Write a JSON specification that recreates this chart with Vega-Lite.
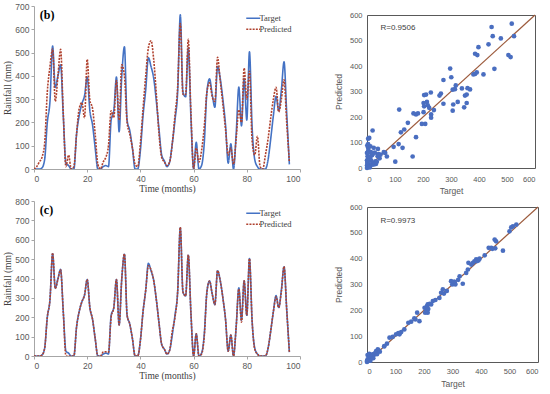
{
  "$schema": "https://vega.github.io/schema/vega-lite/v6.json",
  "padding": {"left": 2, "top": 1, "right": 0, "bottom": 0},
  "background": "white",
  "datasets": {
    "seriesB": [
      {"month":0,"Target":0,"Predicted":0},{"month":1,"Target":0,"Predicted":10},{"month":2,"Target":0,"Predicted":30},{"month":3,"Target":5,"Predicted":50},{"month":4,"Target":40,"Predicted":110},{"month":5,"Target":200,"Predicted":330},{"month":6,"Target":290,"Predicted":440},{"month":7,"Target":528,"Predicted":515},{"month":8,"Target":350,"Predicted":290},{"month":9,"Target":400,"Predicted":400},
      {"month":10,"Target":447,"Predicted":514},{"month":11,"Target":230,"Predicted":240},{"month":12,"Target":25,"Predicted":10},{"month":13,"Target":15,"Predicted":60},{"month":14,"Target":0,"Predicted":0},{"month":15,"Target":0,"Predicted":10},{"month":16,"Target":150,"Predicted":150},{"month":17,"Target":230,"Predicted":260},{"month":18,"Target":280,"Predicted":285},{"month":19,"Target":315,"Predicted":220},
      {"month":20,"Target":395,"Predicted":471},{"month":21,"Target":250,"Predicted":295},{"month":22,"Target":190,"Predicted":260},{"month":23,"Target":90,"Predicted":150},{"month":24,"Target":0,"Predicted":20},{"month":25,"Target":0,"Predicted":0},{"month":26,"Target":10,"Predicted":30},{"month":27,"Target":15,"Predicted":50},{"month":28,"Target":10,"Predicted":100},{"month":29,"Target":210,"Predicted":250},
      {"month":30,"Target":250,"Predicted":220},{"month":31,"Target":395,"Predicted":380},{"month":32,"Target":160,"Predicted":210},{"month":33,"Target":400,"Predicted":447},{"month":34,"Target":525,"Predicted":400},{"month":35,"Target":210,"Predicted":200},{"month":36,"Target":165,"Predicted":150},{"month":37,"Target":90,"Predicted":90},{"month":38,"Target":0,"Predicted":20},{"month":39,"Target":0,"Predicted":10},
      {"month":40,"Target":80,"Predicted":110},{"month":41,"Target":230,"Predicted":260},{"month":42,"Target":340,"Predicted":400},{"month":43,"Target":478,"Predicted":520},{"month":44,"Target":440,"Predicted":551},{"month":45,"Target":390,"Predicted":470},{"month":46,"Target":290,"Predicted":320},{"month":47,"Target":170,"Predicted":150},{"month":48,"Target":60,"Predicted":50},{"month":49,"Target":35,"Predicted":30},
      {"month":50,"Target":10,"Predicted":15},{"month":51,"Target":30,"Predicted":30},{"month":52,"Target":110,"Predicted":110},{"month":53,"Target":210,"Predicted":230},{"month":54,"Target":330,"Predicted":350},{"month":55,"Target":662,"Predicted":625},{"month":56,"Target":330,"Predicted":320},{"month":57,"Target":310,"Predicted":320},{"month":58,"Target":520,"Predicted":557},{"month":59,"Target":220,"Predicted":240},
      {"month":60,"Target":0,"Predicted":0},{"month":61,"Target":115,"Predicted":90},{"month":62,"Target":0,"Predicted":30},{"month":63,"Target":15,"Predicted":80},{"month":64,"Target":110,"Predicted":180},{"month":65,"Target":330,"Predicted":330},{"month":66,"Target":387,"Predicted":370},{"month":67,"Target":320,"Predicted":310},{"month":68,"Target":265,"Predicted":290},{"month":69,"Target":440,"Predicted":480},
      {"month":70,"Target":390,"Predicted":380},{"month":71,"Target":300,"Predicted":280},{"month":72,"Target":190,"Predicted":170},{"month":73,"Target":25,"Predicted":60},{"month":74,"Target":108,"Predicted":90},{"month":75,"Target":0,"Predicted":20},{"month":76,"Target":150,"Predicted":130},{"month":77,"Target":352,"Predicted":254},{"month":78,"Target":185,"Predicted":200},{"month":79,"Target":388,"Predicted":433},
      {"month":80,"Target":210,"Predicted":300},{"month":81,"Target":503,"Predicted":420},{"month":82,"Target":180,"Predicted":120},{"month":83,"Target":40,"Predicted":60},{"month":84,"Target":10,"Predicted":140},{"month":85,"Target":0,"Predicted":10},{"month":86,"Target":0,"Predicted":0},{"month":87,"Target":0,"Predicted":60},{"month":88,"Target":40,"Predicted":130},{"month":89,"Target":130,"Predicted":220},
      {"month":90,"Target":230,"Predicted":300},{"month":91,"Target":312,"Predicted":351},{"month":92,"Target":250,"Predicted":245},{"month":93,"Target":340,"Predicted":300},{"month":94,"Target":460,"Predicted":383},{"month":95,"Target":240,"Predicted":200},{"month":96,"Target":20,"Predicted":30}
    ],
    "seriesC": [
      {"month":0,"Target":0,"Predicted":0},{"month":1,"Target":0,"Predicted":0},{"month":2,"Target":0,"Predicted":0},{"month":3,"Target":5,"Predicted":5},{"month":4,"Target":40,"Predicted":40},{"month":5,"Target":200,"Predicted":200},{"month":6,"Target":290,"Predicted":290},{"month":7,"Target":528,"Predicted":532},{"month":8,"Target":350,"Predicted":348},{"month":9,"Target":400,"Predicted":395},
      {"month":10,"Target":447,"Predicted":445},{"month":11,"Target":230,"Predicted":228},{"month":12,"Target":25,"Predicted":0},{"month":13,"Target":15,"Predicted":0},{"month":14,"Target":0,"Predicted":0},{"month":15,"Target":0,"Predicted":0},{"month":16,"Target":150,"Predicted":150},{"month":17,"Target":230,"Predicted":230},{"month":18,"Target":280,"Predicted":280},{"month":19,"Target":315,"Predicted":315},
      {"month":20,"Target":395,"Predicted":395},{"month":21,"Target":250,"Predicted":250},{"month":22,"Target":190,"Predicted":190},{"month":23,"Target":90,"Predicted":90},{"month":24,"Target":0,"Predicted":0},{"month":25,"Target":0,"Predicted":0},{"month":26,"Target":10,"Predicted":20},{"month":27,"Target":15,"Predicted":22},{"month":28,"Target":10,"Predicted":20},{"month":29,"Target":210,"Predicted":200},
      {"month":30,"Target":250,"Predicted":250},{"month":31,"Target":395,"Predicted":395},{"month":32,"Target":160,"Predicted":160},{"month":33,"Target":400,"Predicted":400},{"month":34,"Target":525,"Predicted":527},{"month":35,"Target":210,"Predicted":210},{"month":36,"Target":165,"Predicted":165},{"month":37,"Target":90,"Predicted":90},{"month":38,"Target":0,"Predicted":0},{"month":39,"Target":0,"Predicted":0},
      {"month":40,"Target":80,"Predicted":80},{"month":41,"Target":230,"Predicted":230},{"month":42,"Target":340,"Predicted":340},{"month":43,"Target":478,"Predicted":465},{"month":44,"Target":440,"Predicted":445},{"month":45,"Target":390,"Predicted":390},{"month":46,"Target":290,"Predicted":290},{"month":47,"Target":170,"Predicted":170},{"month":48,"Target":60,"Predicted":60},{"month":49,"Target":35,"Predicted":35},
      {"month":50,"Target":10,"Predicted":10},{"month":51,"Target":30,"Predicted":30},{"month":52,"Target":110,"Predicted":130},{"month":53,"Target":210,"Predicted":200},{"month":54,"Target":330,"Predicted":330},{"month":55,"Target":662,"Predicted":665},{"month":56,"Target":330,"Predicted":330},{"month":57,"Target":310,"Predicted":310},{"month":58,"Target":520,"Predicted":522},{"month":59,"Target":220,"Predicted":220},
      {"month":60,"Target":0,"Predicted":0},{"month":61,"Target":115,"Predicted":115},{"month":62,"Target":0,"Predicted":0},{"month":63,"Target":15,"Predicted":10},{"month":64,"Target":110,"Predicted":100},{"month":65,"Target":330,"Predicted":330},{"month":66,"Target":387,"Predicted":387},{"month":67,"Target":320,"Predicted":320},{"month":68,"Target":265,"Predicted":265},{"month":69,"Target":440,"Predicted":440},
      {"month":70,"Target":390,"Predicted":390},{"month":71,"Target":300,"Predicted":300},{"month":72,"Target":190,"Predicted":190},{"month":73,"Target":25,"Predicted":25},{"month":74,"Target":108,"Predicted":108},{"month":75,"Target":0,"Predicted":0},{"month":76,"Target":150,"Predicted":150},{"month":77,"Target":352,"Predicted":345},{"month":78,"Target":185,"Predicted":175},{"month":79,"Target":388,"Predicted":388},
      {"month":80,"Target":210,"Predicted":210},{"month":81,"Target":503,"Predicted":503},{"month":82,"Target":180,"Predicted":180},{"month":83,"Target":40,"Predicted":35},{"month":84,"Target":10,"Predicted":10},{"month":85,"Target":0,"Predicted":0},{"month":86,"Target":0,"Predicted":0},{"month":87,"Target":0,"Predicted":0},{"month":88,"Target":40,"Predicted":40},{"month":89,"Target":130,"Predicted":130},
      {"month":90,"Target":230,"Predicted":230},{"month":91,"Target":312,"Predicted":305},{"month":92,"Target":250,"Predicted":250},{"month":93,"Target":340,"Predicted":335},{"month":94,"Target":460,"Predicted":462},{"month":95,"Target":240,"Predicted":240},{"month":96,"Target":20,"Predicted":20}
    ],
    "scatterB": [
      {"t":445,"p":553},{"t":517,"p":566},{"t":525,"p":517},{"t":449,"p":517},{"t":478,"p":508},{"t":434,"p":485},{"t":386,"p":448},{"t":398,"p":474},{"t":394,"p":443},{"t":505,"p":443},{"t":513,"p":435},{"t":455,"p":389},{"t":416,"p":367},{"t":386,"p":369},{"t":392,"p":375},{"t":380,"p":367},
      {"t":297,"p":390},{"t":301,"p":356},{"t":273,"p":345},{"t":317,"p":324},{"t":314,"p":309},{"t":306,"p":307},{"t":339,"p":312},{"t":359,"p":313},{"t":368,"p":308},{"t":356,"p":288},{"t":350,"p":284},{"t":264,"p":292},{"t":259,"p":284},{"t":228,"p":296},{"t":211,"p":288},{"t":204,"p":286},
      {"t":202,"p":255},{"t":214,"p":259},{"t":217,"p":246},{"t":273,"p":252},{"t":308,"p":249},{"t":306,"p":225},{"t":324,"p":259},{"t":356,"p":255},{"t":347,"p":238},{"t":204,"p":242},{"t":222,"p":236},{"t":239,"p":227},{"t":229,"p":210},{"t":229,"p":197},{"t":175,"p":210},{"t":166,"p":214},
      {"t":182,"p":214},{"t":202,"p":219},{"t":208,"p":173},{"t":196,"p":173},{"t":115,"p":229},{"t":146,"p":177},{"t":133,"p":151},{"t":121,"p":140},{"t":175,"p":121},{"t":113,"p":94},{"t":127,"p":79},{"t":95,"p":83},{"t":65,"p":59},{"t":71,"p":45},{"t":101,"p":25},{"t":163,"p":45},
      {"t":20,"p":147},{"t":4,"p":115},{"t":24,"p":79},{"t":39,"p":75},{"t":38,"p":46},{"t":39,"p":52},{"t":18,"p":50},{"t":12,"p":39},{"t":24,"p":20},{"t":4,"p":79},{"t":0,"p":59},{"t":4,"p":33},{"t":6,"p":13},{"t":0,"p":0},{"t":8,"p":7},{"t":18,"p":13},
      {"t":30,"p":26},{"t":32,"p":16},{"t":48,"p":52},{"t":4,"p":94},{"t":2,"p":46},{"t":1,"p":20},{"t":0,"p":10},{"t":2,"p":25},{"t":3,"p":60},{"t":5,"p":70},{"t":1,"p":88},{"t":0,"p":30},{"t":6,"p":4},{"t":10,"p":45},{"t":15,"p":28},{"t":20,"p":55},
      {"t":25,"p":14},{"t":35,"p":25},{"t":42,"p":55},{"t":45,"p":38},{"t":8,"p":118},{"t":12,"p":85},{"t":28,"p":60},{"t":3,"p":5},{"t":10,"p":2},{"t":14,"p":62},{"t":7,"p":30},{"t":60,"p":62}
    ],
    "scatterC": [
      {"t":524,"p":532},{"t":512,"p":525},{"t":506,"p":521},{"t":500,"p":506},{"t":453,"p":467},{"t":448,"p":474},{"t":477,"p":431},{"t":436,"p":442},{"t":427,"p":442},{"t":413,"p":413},{"t":391,"p":393},{"t":383,"p":397},{"t":377,"p":390},{"t":372,"p":384},{"t":366,"p":377},{"t":356,"p":384},
      {"t":354,"p":358},{"t":348,"p":345},{"t":336,"p":303},{"t":325,"p":332},{"t":309,"p":303},{"t":307,"p":310},{"t":299,"p":300},{"t":295,"p":313},{"t":266,"p":281},{"t":260,"p":268},{"t":254,"p":248},{"t":231,"p":236},{"t":225,"p":223},{"t":213,"p":223},{"t":207,"p":203},{"t":202,"p":210},
      {"t":204,"p":191},{"t":213,"p":191},{"t":176,"p":191},{"t":184,"p":158},{"t":166,"p":169},{"t":155,"p":156},{"t":145,"p":152},{"t":131,"p":126},{"t":120,"p":116},{"t":114,"p":107},{"t":102,"p":107},{"t":90,"p":97},{"t":79,"p":94},{"t":70,"p":71},{"t":61,"p":62},{"t":38,"p":49},
      {"t":32,"p":42},{"t":26,"p":32},{"t":20,"p":30},{"t":8,"p":32},{"t":2,"p":27},{"t":2,"p":10},{"t":8,"p":17},{"t":14,"p":23},{"t":20,"p":19},{"t":0,"p":4},{"t":5,"p":4},{"t":0,"p":0},{"t":3,"p":8},{"t":6,"p":15},{"t":10,"p":12},{"t":15,"p":20},
      {"t":18,"p":25},{"t":25,"p":28},{"t":30,"p":35},{"t":35,"p":30},{"t":40,"p":45},{"t":45,"p":40},{"t":12,"p":5},{"t":22,"p":15},{"t":210,"p":215},{"t":215,"p":205},{"t":220,"p":225},{"t":240,"p":240},{"t":305,"p":310},{"t":310,"p":300},{"t":385,"p":390},{"t":390,"p":395},
      {"t":395,"p":400},{"t":270,"p":265},{"t":280,"p":275},{"t":170,"p":165},{"t":110,"p":112},{"t":60,"p":60},{"t":320,"p":318},{"t":450,"p":440},{"t":440,"p":438}
    ]
  },
  "config": {
    "view": {"stroke": null},
    "axis": {"grid": false, "labelFont": "Liberation Sans", "labelColor": "#595959", "titleColor": "#404040", "domainColor": "#a6a6a6", "tickColor": "#a6a6a6", "titleFontWeight": "normal", "labelOverlap": false, "labelBound": false},
    "legend": {"labelFont": "Liberation Serif", "labelFontSize": 8.5, "labelColor": "#404040", "symbolType": "M-2.8,0H2.8", "symbolSize": 25, "symbolStrokeWidth": 1.6, "rowPadding": 2, "padding": 0, "labelOffset": 2}
  },
  "columns": 2,
  "align": "none",
  "spacing": {"row": 0, "column": 32},
  "resolve": {"scale": {"color": "independent", "strokeDash": "independent"}},
  "concat": [
    {"width": 266, "height": 1, "data": {"values": []}, "mark": "point", "encoding": {}},
    {"width": 168, "height": 1, "data": {"values": []}, "mark": "point", "encoding": {}},
    {
      "width": 266, "height": 163,
      "layer": [
        {
          "data": {"name": "seriesB"},
          "transform": [{"fold": ["Target", "Predicted"], "as": ["series", "rain"]}],
          "mark": {"type": "line", "interpolate": "monotone", "clip": true},
          "encoding": {
            "x": {"field": "month", "type": "quantitative", "scale": {"domain": [0, 100], "nice": false}, "axis": {"values": [0, 20, 40, 60, 80, 100], "tickCount": 20, "title": "Time (months)", "titleFont": "Liberation Serif", "titleFontSize": 9.5, "titlePadding": 1, "labelFontSize": 8.5, "tickSize": 3, "labelPadding": 2}},
            "y": {"field": "rain", "type": "quantitative", "scale": {"domain": [0, 700], "nice": false}, "axis": {"values": [0, 100, 200, 300, 400, 500, 600, 700], "tickCount": 20, "title": "Rainfall (mm)", "titleFont": "Liberation Serif", "titleFontSize": 9.5, "titlePadding": 2, "labelFontSize": 8.5, "tickSize": 3, "labelPadding": 2}},
            "color": {"field": "series", "type": "nominal", "scale": {"domain": ["Target", "Predicted"], "range": ["#4472C4", "#B0412E"]}, "legend": {"title": null, "orient": "top-right", "offset": 8}},
            "strokeDash": {"field": "series", "type": "nominal", "scale": {"domain": ["Target", "Predicted"], "range": [[1, 0], [2, 1.2]]}, "legend": {"title": null, "orient": "top-right", "offset": 8}},
            "strokeWidth": {"value": 1.6},
            "order": {"field": "month"}
          }
        },
        {
          "data": {"values": [{"label": "(b)"}]},
          "mark": {"type": "text", "font": "Liberation Serif", "fontWeight": "bold", "fontSize": 12, "align": "left", "baseline": "middle", "color": "#000"},
          "encoding": {"x": {"datum": 2.2}, "y": {"datum": 660}, "text": {"field": "label"}}
        }
      ]
    },
    {
      "width": 168, "height": 153,
      "title": {"text": " ", "fontSize": 4, "offset": 4},
      "view": {"stroke": "#595959"},
      "layer": [
        {
          "data": {"values": [{"t": 0, "p": 0}, {"t": 600, "p": 600}]},
          "mark": {"type": "line", "color": "#9C5A3C", "strokeWidth": 1.2},
          "encoding": {
            "x": {"field": "t", "type": "quantitative", "scale": {"domain": [0, 600], "nice": false}, "axis": {"values": [0, 100, 200, 300, 400, 500, 600], "tickCount": 20, "title": "Target", "titleFont": "Liberation Sans", "titleFontSize": 8.5, "titleColor": "#595959", "titlePadding": 4, "labelFontSize": 7.5, "ticks": false, "domain": false, "labelPadding": 7}},
            "y": {"field": "p", "type": "quantitative", "scale": {"domain": [0, 600], "nice": false}, "axis": {"values": [0, 100, 200, 300, 400, 500, 600], "tickCount": 20, "title": "Predicted", "titleFont": "Liberation Sans", "titleFontSize": 8.5, "titleColor": "#595959", "titlePadding": 6, "labelFontSize": 7.5, "ticks": false, "domain": false, "labelPadding": 5}}
          }
        },
        {
          "data": {"name": "scatterB"},
          "mark": {"type": "circle", "size": 22, "opacity": 1, "color": "#4A6EC0"},
          "encoding": {"x": {"field": "t", "type": "quantitative"}, "y": {"field": "p", "type": "quantitative"}}
        },
        {
          "data": {"values": [{"label": "R=0.9506"}]},
          "mark": {"type": "text", "font": "Liberation Sans", "fontSize": 8, "align": "left", "baseline": "middle", "color": "#404040"},
          "encoding": {"x": {"datum": 48}, "y": {"datum": 550}, "text": {"field": "label"}}
        }
      ]
    },
    {
      "width": 266, "height": 155,
      "title": {"text": " ", "fontSize": 4, "offset": 0},
      "layer": [
        {
          "data": {"name": "seriesC"},
          "transform": [{"fold": ["Target", "Predicted"], "as": ["series", "rain"]}],
          "mark": {"type": "line", "interpolate": "monotone", "clip": true},
          "encoding": {
            "x": {"field": "month", "type": "quantitative", "scale": {"domain": [0, 100], "nice": false}, "axis": {"values": [0, 20, 40, 60, 80, 100], "tickCount": 20, "title": "Time (months)", "titleFont": "Liberation Serif", "titleFontSize": 9.5, "titlePadding": 1, "labelFontSize": 8.5, "tickSize": 3, "labelPadding": 2}},
            "y": {"field": "rain", "type": "quantitative", "scale": {"domain": [0, 800], "nice": false}, "axis": {"values": [0, 100, 200, 300, 400, 500, 600, 700, 800], "tickCount": 20, "title": "Rainfall (mm)", "titleFont": "Liberation Serif", "titleFontSize": 9.5, "titlePadding": 2, "labelFontSize": 8.5, "tickSize": 3, "labelPadding": 2}},
            "color": {"field": "series", "type": "nominal", "scale": {"domain": ["Target", "Predicted"], "range": ["#4472C4", "#B0412E"]}, "legend": {"title": null, "orient": "top-right", "offset": 8}},
            "strokeDash": {"field": "series", "type": "nominal", "scale": {"domain": ["Target", "Predicted"], "range": [[1, 0], [2, 1.2]]}, "legend": {"title": null, "orient": "top-right", "offset": 8}},
            "strokeWidth": {"value": 1.6},
            "order": {"field": "month"}
          }
        },
        {
          "data": {"values": [{"label": "(c)"}]},
          "mark": {"type": "text", "font": "Liberation Serif", "fontWeight": "bold", "fontSize": 12, "align": "left", "baseline": "middle", "color": "#000"},
          "encoding": {"x": {"datum": 2.2}, "y": {"datum": 755}, "text": {"field": "label"}}
        }
      ]
    },
    {
      "width": 171, "height": 155,
      "view": {"stroke": "#595959"},
      "layer": [
        {
          "data": {"values": [{"t": 0, "p": 0}, {"t": 600, "p": 600}]},
          "mark": {"type": "line", "color": "#9C5A3C", "strokeWidth": 1.2},
          "encoding": {
            "x": {"field": "t", "type": "quantitative", "scale": {"domain": [0, 600], "nice": false}, "axis": {"values": [0, 100, 200, 300, 400, 500, 600], "tickCount": 20, "title": "Target", "titleFont": "Liberation Sans", "titleFontSize": 8.5, "titleColor": "#595959", "titlePadding": 5, "labelFontSize": 7.5, "ticks": false, "domain": false, "labelPadding": 5}},
            "y": {"field": "p", "type": "quantitative", "scale": {"domain": [0, 600], "nice": false}, "axis": {"values": [0, 100, 200, 300, 400, 500, 600], "tickCount": 20, "title": "Predicted", "titleFont": "Liberation Sans", "titleFontSize": 8.5, "titleColor": "#595959", "titlePadding": 6, "labelFontSize": 7.5, "ticks": false, "domain": false, "labelPadding": 5}}
          }
        },
        {
          "data": {"name": "scatterC"},
          "mark": {"type": "circle", "size": 22, "opacity": 1, "color": "#4A6EC0"},
          "encoding": {"x": {"field": "t", "type": "quantitative"}, "y": {"field": "p", "type": "quantitative"}}
        },
        {
          "data": {"values": [{"label": "R=0.9973"}]},
          "mark": {"type": "text", "font": "Liberation Sans", "fontSize": 8, "align": "left", "baseline": "middle", "color": "#404040"},
          "encoding": {"x": {"datum": 47}, "y": {"datum": 544}, "text": {"field": "label"}}
        }
      ]
    }
  ]
}
